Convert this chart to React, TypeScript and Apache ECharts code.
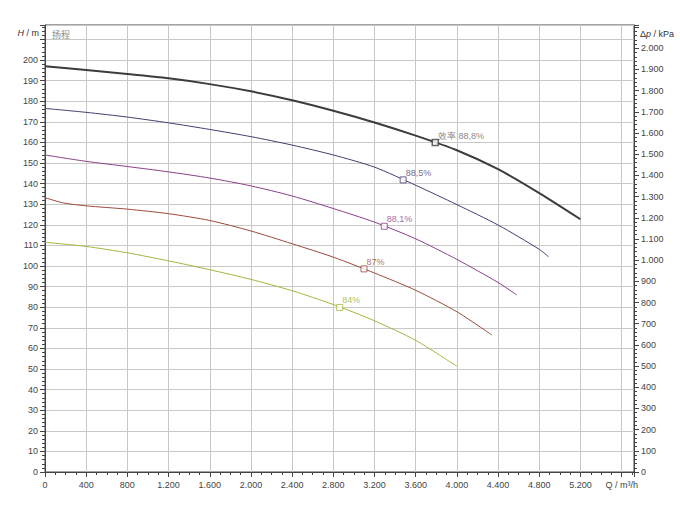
import React, { useEffect, useRef } from "react";
import * as echarts from "echarts";

// ---- data ----
const q1 = [0, 400, 800, 1200, 1600, 2000, 2400, 2800, 3200, 3600, 4000, 4400, 4800, 5200];
const h1 = [197.0, 195.1, 193.2, 191.1, 188.3, 184.8, 180.5, 175.4, 169.7, 163.3, 156.2, 147.0, 135.4, 122.7];

const q2 = [0, 400, 800, 1200, 1600, 2000, 2400, 2800, 3200, 3600, 4000, 4400, 4800, 4890];
const h2 = [176.5, 174.6, 172.3, 169.5, 166.3, 162.8, 158.7, 153.9, 148.0, 139.2, 129.8, 119.9, 108.1, 104.5];

const q3 = [0, 400, 800, 1200, 1600, 2000, 2400, 2800, 3200, 3600, 4000, 4400, 4580];
const h3 = [153.9, 150.8, 148.3, 145.7, 142.7, 138.9, 134.0, 127.9, 121.3, 113.2, 103.2, 92.0, 86.0];

const q4 = [0, 170, 400, 800, 1200, 1600, 2000, 2400, 2800, 3200, 3600, 4000, 4340];
const h4 = [133.2, 130.7, 129.2, 127.6, 125.4, 122.1, 117.0, 110.8, 104.3, 96.6, 88.2, 77.8, 66.5];

const q5 = [0, 400, 800, 1200, 1600, 2000, 2400, 2800, 3200, 3600, 4000];
const h5 = [111.5, 109.5, 106.4, 102.5, 98.2, 93.5, 88.0, 81.3, 73.4, 63.9, 51.3];

const effQ = [3790, 3478, 3295, 3098, 2862];
const effH = [159.9, 141.8, 119.3, 98.6, 79.9];
const effLabels = ["效率 88,8%", "88,5%", "88,1%", "87%", "84%"];

const curveColors = ["#3c3c3c", "#4a3b70", "#8a3f8a", "#9c4a3c", "#a3b53e"];
const labelColors = ["#666666", "#4a3b70", "#8a3f8a", "#9c4a3c", "#9cae3a"];

const xMax = 5720;
const hMax = 217;
const pMax = 2110;
const xAxisTitle = "Q / m³/h";
const cornerText = "扬程";

const FONT = "'Liberation Sans', Arial, sans-serif";

function fmtThousands(v: number): string {
  if (v >= 1000) {
    const t = Math.floor(v / 1000);
    const r = String(Math.round(v % 1000)).padStart(3, "0");
    return t + "." + r;
  }
  return String(v);
}

const zip = (qs: number[], hs: number[]) => qs.map((q, i) => [q, hs[i]]);

export default function App() {
  const ref = useRef<HTMLDivElement>(null);

  useEffect(() => {
    if (!ref.current) return;
    const chart = echarts.init(ref.current, undefined, { renderer: "svg" });

    const curves = [
      [q1, h1],
      [q2, h2],
      [q3, h3],
      [q4, h4],
      [q5, h5],
    ];

    const lineSeries = curves.map(([qs, hs], i) => ({
      type: "line",
      data: zip(qs, hs),
      smooth: 0.25,
      showSymbol: false,
      symbol: "none",
      lineStyle: { color: curveColors[i], width: i === 0 ? 2 : 1 },
      z: 2,
      silent: true,
    }));

    const markerSeries = {
      type: "scatter",
      symbol: "rect",
      symbolSize: 6,
      z: 5,
      data: effQ.map((q, i) => ({
        value: [q, effH[i]],
        itemStyle: {
          color: "#ffffff",
          borderColor: curveColors[i],
          borderWidth: i === 0 ? 1.5 : 1,
        },
        label: {
          show: true,
          formatter: effLabels[i],
          position: "right",
          distance: 0,
          offset: [-1, -7],
          color: labelColors[i],
          fontSize: 9,
          fontFamily: FONT,
        },
      })),
    };

    chart.setOption({
      animation: false,
      backgroundColor: "#ffffff",
      grid: {
        left: 45,
        right: 46,
        top: 25,
        bottom: 34,
        show: true,
        borderColor: "#444",
        borderWidth: 1,
        backgroundColor: "#ffffff",
      },
      graphic: [
        {
          type: "text",
          left: 52,
          top: 30,
          style: {
            text: cornerText,
            fill: "#888",
            font: "9px 'Noto Sans CJK SC', sans-serif",
          },
        },
      ],
      xAxis: {
        type: "value",
        min: 0,
        max: xMax,
        interval: 400,
        axisLine: { show: true, onZero: false, lineStyle: { color: "#444", width: 1 } },
        axisTick: { show: true, length: 5, lineStyle: { color: "#444" } },
        minorTick: { show: true, splitNumber: 4, length: 3, lineStyle: { color: "#444" } },
        splitLine: { show: true, lineStyle: { color: "#c8c8c8", width: 1 } },
        axisLabel: {
          fontSize: 9,
          color: "#444",
          fontFamily: FONT,
          margin: 8,
          showMaxLabel: false,
          formatter: (v: number) => {
            if (v === 5600) return xAxisTitle;
            if (v % 400 !== 0 || v > 5600) return "";
            return fmtThousands(v);
          },
        },
      },
      yAxis: [
        {
          type: "value",
          position: "left",
          min: 0,
          max: hMax,
          interval: 10,
          name: "{i|H} / m",
          nameLocation: "end",
          nameGap: -8,
          nameTextStyle: {
            align: "right",
            verticalAlign: "middle",
            padding: [0, 6, 0, 0],
            fontSize: 9,
            color: "#333",
            fontFamily: FONT,
            rich: {
              i: { fontStyle: "italic", fontSize: 9, color: "#333", fontFamily: FONT },
            },
          },
          axisLine: { show: true, lineStyle: { color: "#444", width: 1 } },
          axisTick: { show: true, length: 5, lineStyle: { color: "#444" } },
          minorTick: { show: true, splitNumber: 5, length: 3, lineStyle: { color: "#444" } },
          splitLine: { show: true, lineStyle: { color: "#c8c8c8", width: 1 } },
          axisLabel: {
            fontSize: 9,
            color: "#444",
            fontFamily: FONT,
            margin: 7,
            showMaxLabel: false,
            formatter: (v: number) => (v % 10 === 0 && v <= 200 ? String(v) : ""),
          },
        },
        {
          type: "value",
          position: "right",
          min: 0,
          max: pMax,
          interval: 100,
          name: "Δ{i|p} / kPa",
          nameLocation: "end",
          nameGap: -9,
          nameTextStyle: {
            align: "left",
            verticalAlign: "middle",
            padding: [0, 0, 0, 6],
            fontSize: 9,
            color: "#333",
            fontFamily: FONT,
            rich: {
              i: { fontStyle: "italic", fontSize: 9, color: "#333", fontFamily: FONT },
            },
          },
          axisLine: { show: true, lineStyle: { color: "#444", width: 1 } },
          axisTick: { show: true, length: 5, lineStyle: { color: "#444" } },
          minorTick: { show: true, splitNumber: 5, length: 3, lineStyle: { color: "#444" } },
          splitLine: { show: false },
          axisLabel: {
            fontSize: 9,
            color: "#444",
            fontFamily: FONT,
            margin: 7,
            showMaxLabel: false,
            formatter: (v: number) => (v % 100 === 0 && v <= 2000 ? fmtThousands(v) : ""),
          },
        },
      ],
      series: [...lineSeries, markerSeries],
    });

    return () => {
      chart.dispose();
    };
  }, []);

  return (
    <div
      ref={ref}
      style={{ position: "absolute", left: 0, top: 0, width: 680, height: 506, background: "#fff" }}
    />
  );
}
